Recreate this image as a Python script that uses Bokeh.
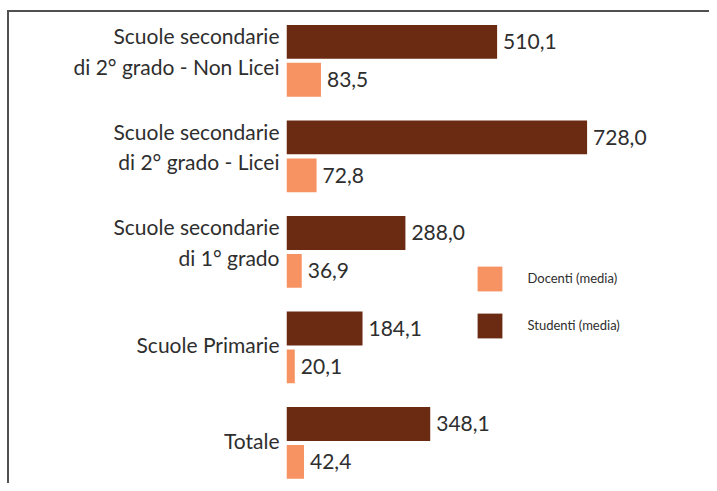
from bokeh.plotting import figure
from bokeh.models import ColumnDataSource, FixedTicker, Range1d, Legend, LegendItem, LabelSet
from bokeh.core.properties import value
from bokeh.transform import dodge
from bokeh.embed import file_html
from bokeh.resources import INLINE

categories = [
    "Scuole secondarie\ndi 2° grado - Non Licei",
    "Scuole secondarie\ndi 2° grado - Licei",
    "Scuole secondarie\ndi 1° grado",
    "Scuole Primarie",
    "Totale",
]
studenti = [510.1, 728.0, 288.0, 184.1, 348.1]
docenti = [83.5, 72.8, 36.9, 20.1, 42.4]
series_names = ["Docenti (media)", "Studenti (media)"]

BROWN = "#6B2A12"
SALMON = "#F79262"
TEXT = "#2E2E2E"
FONT = "Lato"

n = len(categories)
ypos = list(range(n - 1, -1, -1))

def fmt(v):
    return f"{v:.1f}".replace(".", ",")

src = ColumnDataSource(dict(
    y=ypos,
    studenti=studenti,
    docenti=docenti,
    s_lab=[fmt(v) for v in studenti],
    d_lab=[fmt(v) for v in docenti],
))

p = figure(width=709, height=483, output_backend="svg", toolbar_location=None,
           x_range=Range1d(0, 1024.5), y_range=Range1d(-0.425, 4.632),
           min_border_left=286, min_border_right=0, min_border_top=0, min_border_bottom=0)

off = 0.198
h = 0.354
r_s = p.hbar(y=dodge("y", off, range=p.y_range), right="studenti", left=0, height=h,
             source=src, fill_color=BROWN, line_color=None)
r_d = p.hbar(y=dodge("y", -off, range=p.y_range), right="docenti", left=0, height=h,
             source=src, fill_color=SALMON, line_color=None)

for col, lab, o in (("studenti", "s_lab", off), ("docenti", "d_lab", -off)):
    ls = LabelSet(x=col, y=dodge("y", o, range=p.y_range), text=lab, source=src,
                  x_offset=6, text_baseline="middle", text_align="left",
                  text_font=value(FONT), text_font_size=value("21px"), text_color=TEXT)
    p.add_layout(ls)

p.xaxis.visible = False
p.xgrid.visible = False
p.ygrid.visible = False
p.outline_line_color = None
p.border_fill_alpha = 0
p.background_fill_alpha = 0

# category labels: multi-line labels sit a little higher than their bar group
ticks = [y + (0.105 if "\n" in c else 0.03) for y, c in zip(ypos, categories)]
ya = p.yaxis[0]
ya.ticker = FixedTicker(ticks=ticks)
ya.major_label_overrides = {t: c for t, c in zip(ticks, categories)}
ya.axis_line_color = None
ya.major_tick_line_color = None
ya.minor_tick_line_color = None
ya.major_tick_out = 0
ya.major_label_standoff = 7
ya.major_label_text_font = FONT
ya.major_label_text_font_size = "21px"
ya.major_label_text_color = TEXT
ya.major_label_text_line_height = 1.22

legend = Legend(items=[LegendItem(label=series_names[0], renderers=[r_d]),
                       LegendItem(label=series_names[1], renderers=[r_s])],
                location=(187.5, 135.4), orientation="vertical",
                glyph_width=31, glyph_height=31, label_height=45, spacing=2,
                label_standoff=23, padding=0, margin=0,
                border_line_color=None, background_fill_alpha=0,
                label_text_font=FONT, label_text_font_size="13px",
                label_text_color=TEXT, label_text_baseline="middle")
p.add_layout(legend)

p.styles = {
    "background-image": "linear-gradient(#505050, #505050), linear-gradient(#505050, #505050)",
    "background-size": "2px 100%, 100% 2px",
    "background-position": "7px 10px, 7px 10px",
    "background-repeat": "no-repeat",
}

open("out.html", "w").write(file_html(p, INLINE))
